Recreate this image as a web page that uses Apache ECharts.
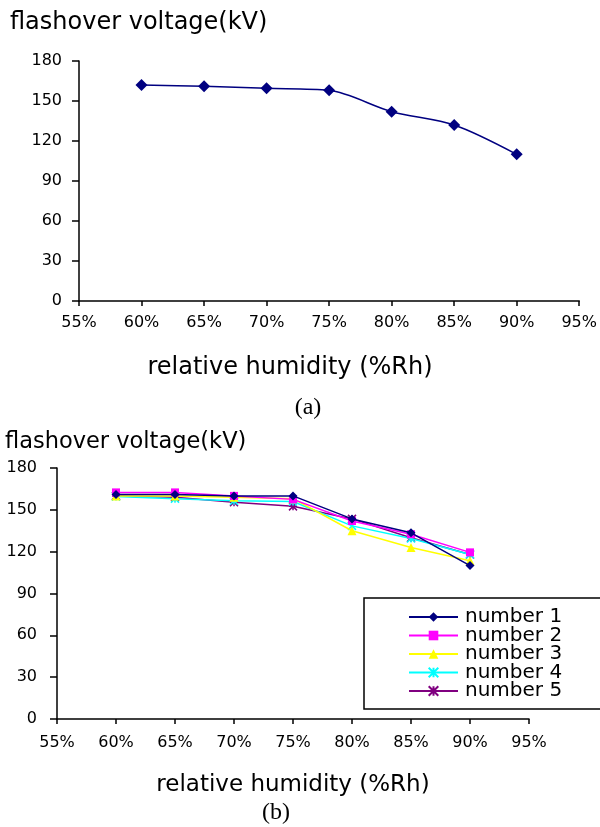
<!DOCTYPE html>
<html>
<head>
<meta charset="utf-8">
<script src="https://cdn.jsdelivr.net/npm/echarts@6/dist/echarts.min.js"></script>
<style>
  html, body { margin: 0; padding: 0; background: #fff; }
  #chart { width: 600px; height: 827px; }
</style>
</head>
<body>
<div id="chart"></div>
<script>
// humidity categories (%Rh)
const humidity = [60, 65, 70, 75, 80, 85, 90]
// (a) average flashover voltage
const voltageA = [162, 161, 159.5, 158, 142, 132, 110]
// (b) individual samples
const seriesNames = ['number 1', 'number 2', 'number 3', 'number 4', 'number 5']
const number1 = [161, 161, 160, 160, 143.5, 133.5, 110]
const number2 = [162.5, 162.5, 160, 157.5, 142, 132.5, 119.5]
const number3 = [160, 160, 159, 158, 135, 123, 113.5]
const number4 = [159.5, 158, 156.5, 156, 138.5, 129.5, 118]
const number5 = [160, 159, 155.5, 152.5, 143.5, 130, 118]
const voltageB = [number1, number2, number3, number4, number5]

const colors = ['#000080', '#ff00ff', '#ffff00', '#00ffff', '#800080']
const symbols = [
  'diamond',
  'rect',
  'triangle',
  'path://M0,0L10,10M10,0L0,10M5,0L5,10',
  'path://M0,0L10,10M10,0L0,10M5,0L5,10M0,5L10,5'
]
const symbolSizes = [9, 8, 9, 8, 8]

const font = 'DejaVu Sans'

function toPairs(vals) {
  return humidity.map((h, i) => [h, vals[i]])
}

function xAxisCfg(gridIndex, margin) {
  return {
    gridIndex,
    type: 'value',
    min: 55,
    max: 95,
    interval: 5,
    axisLine: { show: true, lineStyle: { color: '#000', width: 1.5 } },
    axisTick: { show: true, length: 5, lineStyle: { color: '#000', width: 1.5 } },
    axisLabel: {
      formatter: '{value}%',
      color: '#000',
      fontFamily: font,
      fontSize: 16,
      margin
    },
    splitLine: { show: false }
  }
}

function yAxisCfg(gridIndex, margin) {
  return {
    gridIndex,
    type: 'value',
    min: 0,
    max: 180,
    interval: 30,
    axisLine: { show: true, lineStyle: { color: '#000', width: 1.5 } },
    axisTick: { show: true, length: 7, lineStyle: { color: '#000', width: 1.5 } },
    axisLabel: { color: '#000', fontFamily: font, fontSize: 16, margin },
    splitLine: { show: false }
  }
}

function textEl(text, x, y, size, align, family) {
  return {
    type: 'text',
    x,
    y,
    style: {
      text,
      fill: '#000',
      font: size + 'px "' + (family || font) + '"',
      textAlign: align || 'center',
      textVerticalAlign: 'middle'
    }
  }
}

const seriesB = voltageB.map((vals, i) => ({
  name: seriesNames[i],
  type: 'line',
  xAxisIndex: 1,
  yAxisIndex: 1,
  data: toPairs(vals),
  symbol: symbols[i],
  symbolSize: symbolSizes[i],
  lineStyle: { color: colors[i], width: 1.5 },
  itemStyle: {
    color: colors[i],
    borderColor: colors[i],
    borderWidth: i >= 3 ? 1.5 : 0
  },
  z: 10 - i
}))

const chart = echarts.init(document.getElementById('chart'), null, { renderer: 'canvas' })
chart.setOption({
  animation: false,
  backgroundColor: '#fff',
  grid: [
    { left: 79, right: 20, top: 61, bottom: 526 },
    { left: 57, right: 71, top: 468, bottom: 108 }
  ],
  xAxis: [xAxisCfg(0, 14), xAxisCfg(1, 16)],
  yAxis: [yAxisCfg(0, 17), yAxisCfg(1, 20)],
  legend: {
    data: seriesNames,
    orient: 'vertical',
    left: 364,
    top: 598,
    itemWidth: 49,
    itemHeight: 12,
    itemGap: -1.5,
    padding: [9, 80, 8, 44],
    borderColor: '#000',
    borderWidth: 1.5,
    borderRadius: 0,
    backgroundColor: '#fff',
    textStyle: { color: '#000', fontFamily: font, fontSize: 20, lineHeight: 16, padding: [0, 0, 0, 2] }
  },
  graphic: [
    textEl('flashover voltage(kV)', 10, 23, 24, 'left'),
    textEl('relative humidity (%Rh)', 290, 368, 24),
    textEl('(a)', 308, 408, 24, 'center', 'Liberation Serif'),
    textEl('flashover voltage(kV)', 5, 442, 22.5, 'left'),
    textEl('relative humidity (%Rh)', 293, 785, 23),
    textEl('(b)', 276, 813, 24, 'center', 'Liberation Serif')
  ],
  series: [
    {
      name: 'average',
      type: 'line',
      xAxisIndex: 0,
      yAxisIndex: 0,
      data: toPairs(voltageA),
      smooth: 0.3,
      symbol: 'diamond',
      symbolSize: 12,
      lineStyle: { color: '#000080', width: 1.5 },
      itemStyle: { color: '#000080' }
    }
  ].concat(seriesB)
})
</script>
</body>
</html>
